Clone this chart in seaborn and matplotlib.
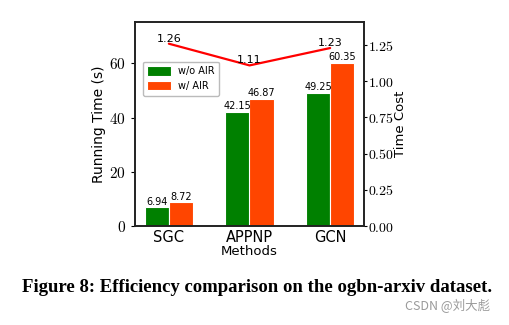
import matplotlib
matplotlib.use("Agg")
import matplotlib.pyplot as plt
import matplotlib.ticker as mticker
import numpy as np
import pandas as pd
import seaborn as sns

methods = ["SGC", "APPNP", "GCN"]
time_wo_air = [6.94, 42.15, 49.25]
time_w_air = [8.72, 46.87, 60.35]
time_cost = [1.26, 1.11, 1.23]
series_names = ["w/o AIR", "w/ AIR"]

sns.set_style("ticks")
plt.rcParams["font.family"] = ["DejaVu Sans"]
plt.rcParams["mathtext.fontset"] = "cm"
for key in ("text.color", "axes.labelcolor", "xtick.color", "ytick.color"):
    plt.rcParams[key] = "black"

df = pd.DataFrame({
    "Methods": methods * 2,
    "Running Time (s)": time_wo_air + time_w_air,
    "Setting": [series_names[0]] * len(methods) + [series_names[1]] * len(methods),
})

fig = plt.figure(figsize=(5.10, 3.25), dpi=100)
ax = fig.add_axes([135 / 510, 99 / 325, 229 / 510, 204 / 325])

sns.barplot(data=df, x="Methods", y="Running Time (s)", hue="Setting",
            palette=["#008000", "#ff4500"], saturation=1, width=0.6, gap=0,
            edgecolor="white", linewidth=0.8, ax=ax)

for container in ax.containers:
    ax.bar_label(container, fmt="%.2f", fontsize=7, padding=0.5)

ax.set_ylim(0, 75.3)
ax.set_xlim(-0.42, 2.42)
ax.set_yticks([0, 20, 40, 60])
ax.yaxis.set_major_formatter(mticker.FuncFormatter(lambda v, p: f"${v:.0f}$"))
ax.tick_params(axis="y", labelsize=11, length=3, width=0.8)
ax.tick_params(axis="x", labelsize=10.5, length=0, pad=3)
ax.set_xlabel("Methods", fontsize=9.5, labelpad=0)
ax.set_ylabel("Running Time (s)", fontsize=10, labelpad=2)

leg = ax.legend(loc="upper left", bbox_to_anchor=(0.012, 0.83), fontsize=7,
                frameon=True, fancybox=True, edgecolor="#aaaaaa",
                handlelength=2.4, handleheight=1.1, borderpad=0.5,
                labelspacing=0.45, handletextpad=0.7)

ax2 = ax.twinx()
sns.lineplot(x=np.arange(len(methods)), y=time_cost, color="red",
             linewidth=1.6, ax=ax2)
for xi, v in zip(np.arange(len(methods)), time_cost):
    ax2.annotate(f"{v:.2f}", (xi, v), xytext=(0, 0), textcoords="offset points",
                 ha="center", va="bottom", fontsize=8)
ax2.set_ylim(0, 1.41)
ax2.set_yticks([0.0, 0.25, 0.5, 0.75, 1.0, 1.25])
ax2.yaxis.set_major_formatter(mticker.FuncFormatter(lambda v, p: f"${v:.2f}$"))
ax2.tick_params(axis="y", labelsize=10, length=2.5, width=0.8, pad=0.5)
ax2.set_ylabel("Time Cost", fontsize=9.5, labelpad=0)
ax2.set_xlim(-0.42, 2.42)

for a in (ax, ax2):
    for s in a.spines.values():
        s.set_linewidth(1.2)
        s.set_color("#222222")
        s.set_visible(True)

fig.text(257 / 510, (325 - 288) / 325,
         "Figure 8: Efficiency comparison on the ogbn-arxiv dataset.",
         ha="center", va="center", fontsize=13.5,
         fontweight="bold", family=["Liberation Serif"])
fig.text(490 / 510, (325 - 306) / 325, "CSDN @刘大彪", ha="right", va="center",
         fontsize=9, color="#9a9a9a", family=["Noto Sans CJK SC", "DejaVu Sans"])

fig.savefig("out.png", dpi=100, facecolor="white")
